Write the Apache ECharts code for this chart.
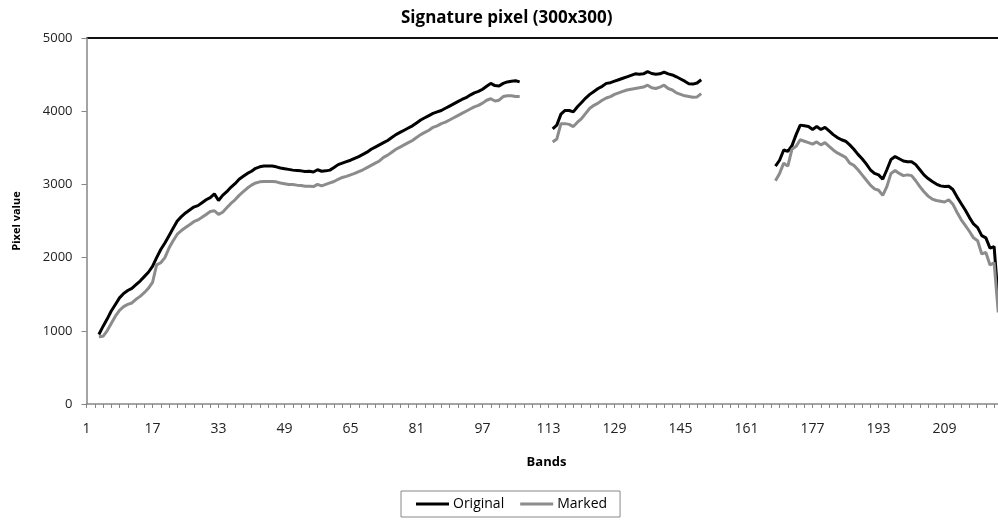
<!DOCTYPE html>
<html>
<head>
<meta charset="utf-8">
<title>Signature pixel (300x300)</title>
<script src="https://cdn.jsdelivr.net/npm/echarts@6/dist/echarts.min.js"></script>
<style>
  html, body { margin: 0; padding: 0; background: #fff; }
  #chart { width: 998px; height: 520px; }
</style>
</head>
<body>
<div id="chart"></div>
<script>
// Spectral signature of one pixel, original vs. marked, bands 1..224.
// Water-absorption bands are left empty, so each series is split in three runs.
const bandCount = 224;
const yTicks = [0, 1000, 2000, 3000, 4000, 5000];

// run 1: bands 4..106
const seg1Start = 4;
const originalSeg1 = [
  950, 1060, 1160, 1270, 1360, 1450, 1510, 1550, 1580, 1630,
  1680, 1740, 1800, 1880, 2000, 2110, 2200, 2300, 2400, 2500,
  2560, 2610, 2650, 2690, 2710, 2750, 2790, 2820, 2870, 2780,
  2850, 2900, 2960, 3010, 3070, 3110, 3150, 3180, 3220, 3240,
  3250, 3250, 3250, 3240, 3225, 3215, 3205, 3195, 3190, 3185,
  3175, 3180, 3170, 3200, 3180, 3185, 3195, 3230, 3270, 3290,
  3310, 3330, 3355, 3380, 3410, 3440, 3480, 3510, 3540, 3570,
  3600, 3640, 3680, 3710, 3740, 3770, 3800, 3840, 3880, 3910,
  3940, 3970, 3990, 4010, 4040, 4070, 4100, 4130, 4160, 4185,
  4220, 4250, 4270, 4300, 4340, 4380, 4350, 4345, 4380, 4400,
  4410, 4415, 4400
];
const markedSeg1 = [
  920, 925, 1000, 1100, 1200, 1280, 1330, 1360, 1380, 1430,
  1470, 1520, 1580, 1660, 1900, 1930, 2000, 2130, 2230, 2320,
  2370, 2410, 2450, 2490, 2515, 2550, 2590, 2630, 2640, 2590,
  2620, 2680, 2740, 2790, 2850, 2900, 2950, 2990, 3020, 3035,
  3040, 3040, 3040, 3035, 3020, 3010, 3000, 3000, 2990, 2985,
  2975, 2975, 2970, 3000, 2980, 3000, 3020, 3040, 3070, 3095,
  3110, 3130, 3150, 3175, 3200, 3230, 3260, 3290, 3320, 3370,
  3400, 3440, 3480, 3510, 3540, 3570, 3600, 3640, 3680, 3710,
  3740, 3780, 3800, 3830, 3850, 3880, 3910, 3940, 3970, 4000,
  4030, 4060, 4080, 4110, 4150, 4170, 4140, 4150, 4200, 4210,
  4210, 4200, 4200
];

// run 2: bands 114..150
const seg2Start = 114;
const originalSeg2 = [
  3760, 3810, 3960, 4010, 4010, 3990, 4060, 4120, 4180, 4230,
  4270, 4310, 4340, 4380, 4390, 4410, 4430, 4450, 4470, 4490,
  4510, 4505, 4510, 4540, 4515, 4505, 4510, 4535, 4510, 4495,
  4470, 4440, 4410, 4375, 4370, 4385, 4430
];
const markedSeg2 = [
  3580, 3620, 3830, 3830, 3820, 3790, 3850, 3900, 3970, 4040,
  4080, 4110, 4150, 4180, 4200, 4230, 4250, 4270, 4290, 4300,
  4310, 4320, 4330, 4355, 4320, 4310, 4330, 4355, 4310, 4290,
  4250, 4230, 4210, 4200, 4190, 4195, 4240
];

// run 3: bands 168..222
const seg3Start = 168;
const originalSeg3 = [
  3250, 3330, 3470, 3450, 3530, 3680, 3810, 3800, 3790, 3750,
  3790, 3750, 3780, 3730, 3680, 3640, 3610, 3590, 3540, 3480,
  3410, 3350, 3280, 3200, 3150, 3130, 3070, 3200, 3340, 3380,
  3350, 3320, 3310, 3310, 3270, 3200, 3130, 3080, 3040, 3005,
  2980, 2970, 2975, 2930, 2830, 2740, 2650, 2550, 2460, 2410,
  2300, 2270, 2130, 2150, 1420
];
const markedSeg3 = [
  3050, 3150, 3290, 3250, 3480, 3520, 3610, 3590, 3570, 3550,
  3580, 3540, 3570, 3520, 3470, 3430, 3400, 3370, 3290, 3260,
  3200, 3130, 3060, 2990, 2940, 2920, 2850, 2970, 3150, 3190,
  3150, 3120, 3130, 3120, 3050, 2970, 2900, 2840, 2800, 2780,
  2770, 2760, 2790, 2730, 2620, 2520, 2440, 2360, 2270, 2230,
  2050, 2070, 1900, 1930, 1250
];

const bands = [];
for (let b = 1; b <= bandCount; b++) bands.push(String(b));

// place each run at its bands, leaving the gaps empty
function assemble(runs) {
  const out = new Array(bandCount).fill(null);
  runs.forEach(([start, values]) => {
    values.forEach((v, i) => { out[start - 1 + i] = v; });
  });
  return out;
}
const original = assemble([[seg1Start, originalSeg1], [seg2Start, originalSeg2], [seg3Start, originalSeg3]]);
const marked = assemble([[seg1Start, markedSeg1], [seg2Start, markedSeg2], [seg3Start, markedSeg3]]);

const FONT = '"Open Sans", Lato, sans-serif';
const axisGray = '#868686';

const chart = echarts.init(document.getElementById('chart'), null, { renderer: 'canvas' });
chart.setOption({
  animation: false,
  backgroundColor: '#ffffff',
  textStyle: { fontFamily: FONT },
  graphic: [{
    type: 'text',
    left: 511 - 110,
    top: 10,
    style: {
      text: 'Signature pixel (300x300)',
      font: 'bold 17px ' + FONT,
      fill: '#000',
      width: 220,
      align: 'center'
    }
  }],
  legend: {
    data: ['Original', 'Marked'],
    left: 401,
    top: 491,
    padding: [6, 13, 6, 15],
    borderColor: '#888',
    borderWidth: 1,
    itemWidth: 33,
    itemHeight: 3,
    itemGap: 16,
    icon: 'rect',
    textStyle: { fontFamily: FONT, fontSize: 14, color: '#000', padding: [0, 0, 0, -1] }
  },
  grid: {
    left: 86.5,
    top: 38,
    width: 920,
    bottom: 116,
    containLabel: false,
    outerBoundsMode: 'none'
  },
  xAxis: {
    type: 'category',
    data: bands,
    boundaryGap: false,
    name: 'Bands',
    nameLocation: 'middle',
    nameGap: 52,
    nameTextStyle: { fontFamily: FONT, fontWeight: 'bold', fontSize: 13, color: '#000' },
    axisLine: { lineStyle: { color: axisGray, width: 1.5 } },
    axisTick: { show: true, interval: 1, length: 4, lineStyle: { color: axisGray } },
    axisLabel: { interval: 15, margin: 18, fontSize: 14, color: '#222', fontFamily: FONT },
    splitLine: { show: false }
  },
  yAxis: {
    type: 'value',
    min: yTicks[0],
    max: yTicks[yTicks.length - 1],
    interval: 1000,
    name: 'Pixel value',
    nameLocation: 'middle',
    nameGap: 64,
    nameRotate: 90,
    nameTextStyle: { fontFamily: FONT, fontWeight: 'bold', fontSize: 11, color: '#000' },
    axisLine: { show: true, lineStyle: { color: axisGray, width: 1.5 } },
    axisTick: { show: true, length: 5, lineStyle: { color: axisGray } },
    axisLabel: { margin: 14, fontSize: 13, color: '#222', fontFamily: FONT, formatter: v => String(v) },
    // only the top boundary of the plot is ruled
    splitLine: {
      show: true,
      lineStyle: {
        width: 2,
        color: ['rgba(0,0,0,0)', 'rgba(0,0,0,0)', 'rgba(0,0,0,0)', 'rgba(0,0,0,0)', 'rgba(0,0,0,0)', '#111']
      }
    }
  },
  series: [
    {
      name: 'Original',
      type: 'line',
      data: original,
      showSymbol: false,
      symbol: 'none',
      connectNulls: false,
      color: '#000000',
      lineStyle: { color: '#000000', width: 3 }
    },
    {
      name: 'Marked',
      type: 'line',
      data: marked,
      showSymbol: false,
      symbol: 'none',
      connectNulls: false,
      color: '#8c8c8c',
      lineStyle: { color: '#8c8c8c', width: 3 }
    }
  ]
});
</script>
</body>
</html>
